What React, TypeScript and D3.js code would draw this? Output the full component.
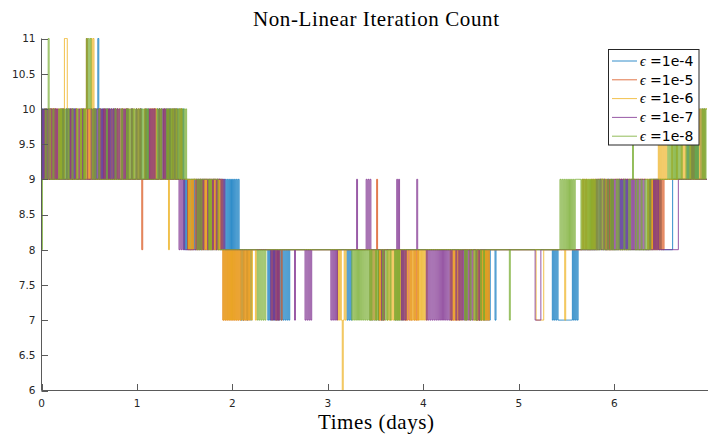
import React from "react";
import * as d3 from "d3";

// ---- data: each series is a list of [startTime (days), samples] chunks.
// One character = one time step of DT days. '6'..'9' literal, 'a' = 10, 'b' = 11.
const DT = 0.01;
const T_END = 6.97;
const X_TICKS = [0, 1, 2, 3, 4, 5, 6];
const Y_TICKS = [6, 6.5, 7, 7.5, 8, 8.5, 9, 9.5, 10, 10.5, 11];
const SERIES_LABELS = ["1e-4", "1e-5", "1e-6", "1e-7", "1e-8"];
const SERIES_COLORS = ["#0072BD", "#D95319", "#EDB120", "#7E2F8E", "#77AC30"];

const eps1e4: [number, string][] = [
  [0.0, "9a9a9a9a9a"],
  [0.1, "9999a99999a9999"],
  [0.25, "9a9a9a9a9a9a"],
  [0.37, "99999a9999a999999a9999"],
  [0.55, "9a9ab9a9a9a9a9a9a9a9a9a9a"],
  [0.8, "99a999999a99999a9999"],
  [1.0, "9999a999999a999999a9"],
  [1.2, "9a9a9a99a9a9a9a9a9a9a9a9a9a9a9"],
  [1.49, "8989898989898"],
  [1.62, "898989898"],
  [1.71, "8888988889888"],
  [1.84, "98989898989898989898989"],
  [2.07, "8878788878887"],
  [2.2, "8"],
  [2.36, "878787878787878787878787"],
  [2.6, "8"],
  [3.2, "787878"],
  [3.26, "8"],
  [3.44, "7878787"],
  [3.51, "8878878"],
  [3.58, "8"],
  [3.7, "787878787"],
  [3.79, "8"],
  [4.55, "8787878878787878"],
  [4.71, "88887888"],
  [5.35, "787878"],
  [5.41, "777777777777777"],
  [5.56, "878787"],
  [5.62, "8"],
  [5.85, "989898898989"],
  [5.97, "8"],
  [6.05, "9898989898"],
  [6.15, "8"],
  [6.38, "989898989898"],
  [6.5, "8"],
  [6.61, "9"],
  [6.75, "9a9a99a9a9a9a99a9a9a9"],
];

const eps1e5: [number, string][] = [
  [0.0, "9999a9999a"],
  [0.1, "9a9a9a9a9a9a9a9"],
  [0.25, "99999a99999a999"],
  [0.4, "9a99a9ab9a9a99a9"],
  [0.56, "9999a9999a9999a9999"],
  [0.75, "9a99a9999a9999a9999a999"],
  [0.98, "9a9a9a9"],
  [1.05, "8"],
  [1.06, "99a9999a"],
  [1.12, "9a9a9a9a"],
  [1.2, "999a9999a999a9999a999a9999a99"],
  [1.49, "9999898"],
  [1.56, "8989989898989898989"],
  [1.75, "89898989898989"],
  [1.89, "8787878787878787"],
  [2.05, "87878878787878"],
  [2.19, "8"],
  [2.45, "87878878"],
  [2.53, "8"],
  [3.44, "8888888987878878"],
  [3.6, "8"],
  [3.8, "878787878878787"],
  [3.95, "8"],
  [4.28, "87878787878"],
  [4.39, "8888"],
  [4.55, "878787878787878"],
  [4.7, "8"],
  [5.66, "89889"],
  [5.71, "8"],
  [5.75, "89898989"],
  [5.83, "9"],
  [5.9, "8989898989"],
  [6.0, "9"],
  [6.35, "898989898989898989"],
  [6.53, "9"],
  [6.8, "a9a9"],
  [6.84, "9"],
];

const eps1e6: [number, string][] = [
  [0.0, "999a9"],
  [0.05, "9a9a9a9a9a"],
  [0.15, "99999a9aa"],
  [0.24, "bbb"],
  [0.27, "a9999a99"],
  [0.35, "9a9a9a9a9a9a9"],
  [0.48, "99a9b9ba9"],
  [0.57, "9999a9999a999999a999"],
  [0.77, "99a"],
  [0.8, "9a9a9a9a9a9a9"],
  [0.93, "999a999999a99999a999"],
  [1.13, "9a9a9a9a"],
  [1.21, "9999a999a9999"],
  [1.33, "8"],
  [1.34, "9a99a9a999a9a999"],
  [1.5, "9999898989"],
  [1.6, "99898999"],
  [1.68, "8989898989898989898989"],
  [1.9, "7878787878787878787878787878787"],
  [2.21, "88878888"],
  [2.29, "8"],
  [2.4, "8788878"],
  [2.47, "8"],
  [3.1, "7878767878"],
  [3.2, "8"],
  [3.44, "78787878"],
  [3.52, "8878787"],
  [3.59, "8"],
  [3.62, "787878787"],
  [3.71, "878787878787"],
  [3.83, "8887878787"],
  [3.93, "78787878787"],
  [4.04, "8"],
  [4.28, "7878787878787"],
  [4.41, "8887888788"],
  [4.51, "878787878787878787"],
  [4.69, "8"],
  [5.18, "77777777"],
  [5.26, "8"],
  [5.48, "7"],
  [5.49, "8"],
  [5.65, "8989898"],
  [5.72, "9898989898"],
  [5.82, "8888989898"],
  [5.92, "8"],
  [6.35, "98989898989"],
  [6.46, "a9a9a9a9a9"],
  [6.56, "9999a9999a999"],
  [6.69, "9a9a9a"],
  [6.75, "9999a999"],
  [6.88, "9a9a9a9a"],
];

const eps1e7: [number, string][] = [
  [0.0, "9a9a9a9a"],
  [0.08, "999a9"],
  [0.1, "a9a9a9a9"],
  [0.18, "9999a999a9"],
  [0.28, "9a9a9a9a"],
  [0.36, "999a999a9999"],
  [0.48, "9999a99"],
  [0.55, "a9a9a9a9a9a9a9a9a9a9a9a9a9a"],
  [0.82, "99"],
  [0.84, "a9a9a9a"],
  [0.91, "999a9999a999a99999a999"],
  [1.12, "a9a9a9a9"],
  [1.2, "999a99"],
  [1.26, "a9a9a"],
  [1.31, "999a9999a9999"],
  [1.44, "898989"],
  [1.5, "8888888888889"],
  [1.63, "89898989"],
  [1.71, "9998999989998999"],
  [1.87, "98989"],
  [1.92, "8"],
  [2.4, "7878787878"],
  [2.5, "8"],
  [2.65, "7"],
  [2.66, "8"],
  [2.76, "7878787"],
  [2.83, "8"],
  [3.03, "78787878"],
  [3.11, "8"],
  [3.3, "9"],
  [3.31, "8"],
  [3.4, "989898"],
  [3.46, "8"],
  [3.55, "87878"],
  [3.6, "8"],
  [3.72, "9898"],
  [3.76, "878787"],
  [3.82, "8"],
  [3.93, "9"],
  [3.94, "8"],
  [4.03, "787878787878787878787878787"],
  [4.3, "888878878"],
  [4.39, "7878787878787"],
  [4.52, "88878878"],
  [4.6, "8"],
  [5.17, "777777"],
  [5.23, "8"],
  [5.8, "898989"],
  [5.86, "8889888988"],
  [5.96, "8989898989898989898989898989898989898"],
  [6.33, "888898889"],
  [6.42, "89898"],
  [6.47, "8"],
  [6.67, "9"],
  [6.8, "9a9a"],
  [6.84, "9"],
];

const eps1e8: [number, string][] = [
  [0.0, "8999a99"],
  [0.07, "b"],
  [0.08, "a999a9999"],
  [0.17, "9a9a9a9a9a9a"],
  [0.29, "999a9999a99"],
  [0.4, "9a99a9a"],
  [0.47, "bababa"],
  [0.53, "9a9a"],
  [0.57, "999a9999999a99999999a999999a999"],
  [0.88, "9a9a"],
  [0.92, "9a9a9a9a9a9a9a9a9a9a"],
  [1.12, "99999999"],
  [1.2, "9a9a9a"],
  [1.26, "99999"],
  [1.31, "a9a9a9a9a9a9a9a9a9a9a"],
  [1.52, "99999999999"],
  [1.63, "898989"],
  [1.69, "999999"],
  [1.75, "8989"],
  [1.79, "999999"],
  [1.85, "8"],
  [2.26, "7878787878"],
  [2.36, "8"],
  [3.25, "787878787878787878787"],
  [3.46, "8888787888878"],
  [3.59, "8787887"],
  [3.66, "8888787878"],
  [3.76, "8"],
  [4.4, "888787888788"],
  [4.52, "8787888878878"],
  [4.65, "8"],
  [4.9, "7"],
  [4.91, "8"],
  [5.43, "98989898989898989"],
  [5.6, "99999"],
  [5.65, "8989898989898989898"],
  [5.84, "9899889889"],
  [5.94, "8898988898988"],
  [6.07, "8889888898"],
  [6.17, "99a99"],
  [6.22, "8898889888"],
  [6.32, "989898"],
  [6.38, "99999999999999999"],
  [6.56, "a9a9a9a9a9a9a9a9"],
  [6.72, "999"],
  [6.75, "a9a9a9a9a9a9a"],
  [6.88, "9999"],
  [6.92, "a9a9a"],
];

const SERIES = [eps1e4, eps1e5, eps1e6, eps1e7, eps1e8];

function codeValue(c: string): number {
  if (c === "a") return 10;
  if (c === "b") return 11;
  return +c;
}

function decode(chunks: [number, string][]): [number, number][] {
  const sorted = [...chunks].sort((a, b) => a[0] - b[0]);
  const pts: [number, number][] = [];
  for (let i = 0; i < sorted.length; i++) {
    const [t0, s] = sorted[i];
    const tNext = i + 1 < sorted.length ? sorted[i + 1][0] : T_END;
    for (let k = 0; k < s.length; k++) {
      const t = Math.round((t0 + k * DT) * 100) / 100;
      if (t >= tNext - 1e-9) break;
      pts.push([t, codeValue(s[k])]);
    }
  }
  pts.push([T_END, pts[pts.length - 1][1]]);
  return pts;
}

const W = 708;
const H = 434;
const L = 41.5;
const R = 707;
const TOP = 38.5;
const BOT = 390.5;

export default function App() {
  const x = d3.scaleLinear().domain([0, T_END]).range([L, R]);
  const y = d3.scaleLinear().domain([6, 11]).range([BOT, TOP]);
  const line = d3
    .line<[number, number]>()
    .x((d) => x(d[0]))
    .y((d) => y(d[1]))
    .curve(d3.curveStepAfter);
  const sans = "'DejaVu Sans', sans-serif";
  const serif = "'Liberation Serif', 'DejaVu Serif', serif";
  const axisColor = "#5a5a5a";
  const textColor = "#262626";
  const legX = 608.5;
  const legY = 49.5;
  const legW = 90.5;
  const legH = 95.5;
  const rowY = (i: number) => 61 + i * 18.8;

  return (
    <svg
      width={W}
      height={H}
      style={{ position: "absolute", left: 0, top: 0, background: "#fff" }}
    >
      <rect x={0} y={0} width={W} height={H} fill="#fff" />
      <defs>
        <clipPath id="plotclip">
          <rect x={L - 1} y={TOP - 1} width={R - L + 2} height={BOT - TOP + 2} />
        </clipPath>
      </defs>
      <g clipPath="url(#plotclip)">
        {SERIES.map((s, i) => (
          <path
            key={i}
            d={line(decode(s)) || ""}
            fill="none"
            stroke={SERIES_COLORS[i]}
            strokeWidth={0.8}
          />
        ))}
      </g>
      {/* axes */}
      <line x1={L} x2={L} y1={TOP} y2={BOT} stroke={axisColor} strokeWidth={1} />
      <line x1={L} x2={R + 1} y1={BOT} y2={BOT} stroke={axisColor} strokeWidth={1} />
      {X_TICKS.map((t) => (
        <g key={"x" + t}>
          <line
            x1={Math.round(x(t)) + 0.5}
            x2={Math.round(x(t)) + 0.5}
            y1={BOT}
            y2={BOT - 6.5}
            stroke={axisColor}
            strokeWidth={1}
          />
          <text
            x={x(t)}
            y={406.5}
            textAnchor="middle"
            fontFamily={sans}
            fontSize={10.5}
            fill={textColor}
          >
            {t}
          </text>
        </g>
      ))}
      {Y_TICKS.map((v) => (
        <g key={"y" + v}>
          <line
            x1={L}
            x2={L + 6.5}
            y1={Math.round(y(v)) + 0.5}
            y2={Math.round(y(v)) + 0.5}
            stroke={axisColor}
            strokeWidth={1}
          />
          <text
            x={35.5}
            y={y(v) + 3.8}
            textAnchor="end"
            fontFamily={sans}
            fontSize={10.5}
            fill={textColor}
          >
            {v}
          </text>
        </g>
      ))}
      <text
        x={376}
        y={26}
        textAnchor="middle"
        fontFamily={serif}
        fontSize={21}
        textLength={246}
        lengthAdjust="spacing"
        fill="#000"
      >
        Non-Linear Iteration Count
      </text>
      <text
        x={376}
        y={429}
        textAnchor="middle"
        fontFamily={serif}
        fontSize={21}
        textLength={116}
        lengthAdjust="spacing"
        fill="#000"
      >
        Times (days)
      </text>
      {/* legend */}
      <rect
        x={legX}
        y={legY}
        width={legW}
        height={legH}
        fill="#fff"
        stroke="#262626"
        strokeWidth={1}
      />
      {SERIES_LABELS.map((lab, i) => (
        <g key={lab}>
          <line
            x1={612}
            x2={637}
            y1={rowY(i)}
            y2={rowY(i)}
            stroke={SERIES_COLORS[i]}
            strokeWidth={0.8}
          />
          <text x={640} y={rowY(i) + 4.8} fontSize={14} fill="#000">
            <tspan fontFamily={serif} fontStyle="italic">
              ϵ
            </tspan>
            <tspan fontFamily={sans}> =</tspan>
            <tspan fontFamily={sans}>{lab}</tspan>
          </text>
        </g>
      ))}
    </svg>
  );
}
